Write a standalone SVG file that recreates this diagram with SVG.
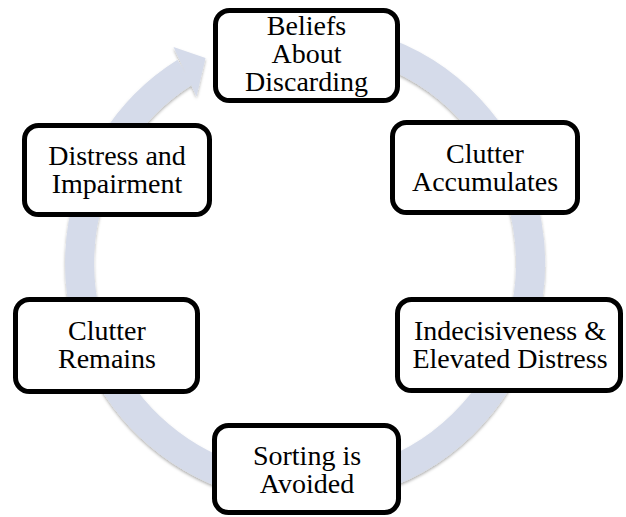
<svg xmlns="http://www.w3.org/2000/svg" width="626" height="517" viewBox="0 0 626 517">
  <style>
    .box { fill: #ffffff; stroke: #000000; stroke-width: 5; }
    .label { font-family: 'Liberation Serif', 'Times New Roman', serif; font-size: 28px; fill: #000000; text-anchor: middle; }
    .ring { fill: none; stroke: #D5DBEA; stroke-width: 29; }
    .head { fill: #D5DBEA; }
  </style>
  <defs>
    <filter id="soft" x="-10%" y="-10%" width="120%" height="120%">
      <feDropShadow dx="0" dy="2" stdDeviation="1.6" flood-color="#000000" flood-opacity="0.3"/>
    </filter>
  </defs>

  <!-- cycle arrow: ring around the centre with an arrowhead ending at the top node -->
  <g id="connectors" filter="url(#soft)">
    <path class="ring" d="M 285.35 38.36 A 225.5 225.5 0 1 1 185.2 72.0"/>
    <polygon class="head" points="173.5,47 205.5,58 196.5,96.5"/>
  </g>

  <g id="node-beliefs">
    <rect class="box" x="215.5" y="10.5" width="182" height="90" rx="14"/>
    <text class="label" x="306.5" y="35">Beliefs</text>
    <text class="label" x="306.5" y="63">About</text>
    <text class="label" x="306.5" y="91">Discarding</text>
  </g>

  <g id="node-clutter-accumulates">
    <rect class="box" x="392.5" y="122.5" width="185" height="90" rx="14"/>
    <text class="label" x="485" y="163">Clutter</text>
    <text class="label" x="485" y="191">Accumulates</text>
  </g>

  <g id="node-indecisiveness">
    <rect class="box" x="397.5" y="299.5" width="223" height="91" rx="14"/>
    <text class="label" x="510" y="340">Indecisiveness &amp;</text>
    <text class="label" x="510" y="368">Elevated Distress</text>
  </g>

  <g id="node-sorting-avoided">
    <rect class="box" x="214.5" y="425.5" width="184" height="87" rx="14"/>
    <text class="label" x="307" y="465">Sorting is</text>
    <text class="label" x="307" y="493">Avoided</text>
  </g>

  <g id="node-clutter-remains">
    <rect class="box" x="15.5" y="299.5" width="182" height="92" rx="14"/>
    <text class="label" x="107" y="340">Clutter</text>
    <text class="label" x="107" y="368">Remains</text>
  </g>

  <g id="node-distress">
    <rect class="box" x="24.5" y="125.5" width="185" height="89" rx="14"/>
    <text class="label" x="117" y="165">Distress and</text>
    <text class="label" x="117" y="193">Impairment</text>
  </g>
</svg>
